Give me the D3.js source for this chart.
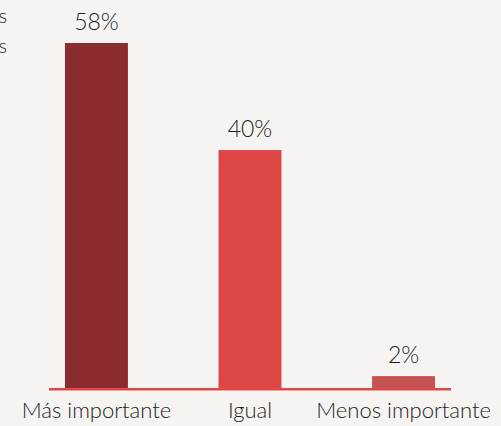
<!DOCTYPE html>
<html>
<head>
<meta charset="utf-8">
<script src="https://cdn.jsdelivr.net/npm/d3@7"></script>
<style>
  html, body { margin: 0; padding: 0; background: #f5f4f2; }
  svg { display: block; }
</style>
</head>
<body>
<div id="chart"></div>
<script>
// 데이터
const categories = ['Más importante', 'Igual', 'Menos importante'];
const values = [58, 40, 2];
const valueLabels = ['58%', '40%', '2%'];
const barColors = ['#8b2c2e', '#dc4644', '#c45451'];
const legendStubs = ['s', 's'];

const WIDTH = 501, HEIGHT = 426;
const FONT = 'Lato, "Open Sans", sans-serif';

const svg = d3.select('#chart').append('svg')
  .attr('width', WIDTH)
  .attr('height', HEIGHT)
  .style('background', '#f5f4f2');

const x = d3.scaleBand()
  .domain(categories)
  .range([49, 451])
  .paddingInner(0.59)
  .paddingOuter(0.104);

const y = d3.scaleLinear()
  .domain([0, 58])
  .range([388, 43]);

// 막대
svg.selectAll('.bar')
  .data(values)
  .join('rect')
  .attr('class', 'bar')
  .attr('x', (d, i) => x(categories[i]))
  .attr('y', d => y(d))
  .attr('width', x.bandwidth())
  .attr('height', d => y(0) - y(d))
  .attr('fill', (d, i) => barColors[i]);

// 축 선
svg.append('line')
  .attr('x1', 49).attr('x2', 451)
  .attr('y1', y(0) + 1.2).attr('y2', y(0) + 1.2)
  .attr('stroke', '#e04848')
  .attr('stroke-width', 2.5);

// 값 라벨
svg.selectAll('.val')
  .data(values)
  .join('text')
  .attr('class', 'val')
  .attr('x', (d, i) => x(categories[i]) + x.bandwidth() / 2)
  .attr('y', d => y(d) - 13)
  .attr('text-anchor', 'middle')
  .attr('font-family', FONT)
  .attr('font-weight', 300)
  .attr('font-size', 23)
  .attr('fill', '#1e1e1e')
  .text((d, i) => valueLabels[i]);

// 카테고리 라벨
svg.selectAll('.cat')
  .data(categories)
  .join('text')
  .attr('class', 'cat')
  .attr('x', d => x(d) + x.bandwidth() / 2)
  .attr('y', 418)
  .attr('text-anchor', 'middle')
  .attr('font-family', FONT)
  .attr('font-weight', 300)
  .attr('font-size', 22)
  .attr('fill', '#1e1e1e')
  .text(d => d);

// 잘린 범례 텍스트
svg.selectAll('.stub')
  .data(legendStubs)
  .join('text')
  .attr('class', 'stub')
  .attr('x', 7)
  .attr('y', (d, i) => 23 + i * 30)
  .attr('text-anchor', 'end')
  .attr('font-family', FONT)
  .attr('font-weight', 300)
  .attr('font-size', 20)
  .attr('fill', '#1e1e1e')
  .text(d => d);
</script>
</body>
</html>
